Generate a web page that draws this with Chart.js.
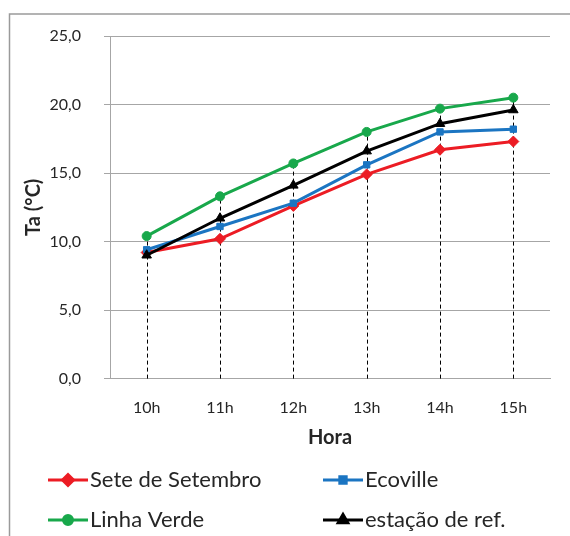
<!DOCTYPE html>
<html>
<head>
<meta charset="utf-8">
<script src="https://cdn.jsdelivr.net/npm/chart.js@4.4.1/dist/chart.umd.min.js"></script>
<style>
  html, body { margin: 0; padding: 0; background: #fff; }
  #wrap { width: 570px; height: 536px; position: relative; }
</style>
</head>
<body>
<div id="wrap"><canvas id="c" width="570" height="536"></canvas></div>
<script>
// Air temperature (°C) by hour at each site
const hours = ['10h', '11h', '12h', '13h', '14h', '15h'];
const seteSetembro = [9.2, 10.2, 12.6, 14.9, 16.7, 17.3];
const ecoville     = [9.4, 11.1, 12.8, 15.6, 18.0, 18.2];
const linhaVerde   = [10.4, 13.3, 15.7, 18.0, 19.7, 20.5];
const estacaoRef   = [9.0, 11.7, 14.1, 16.6, 18.6, 19.6];
const yTicks = [0, 5, 10, 15, 20, 25];

const FONT = 'Lato, "Open Sans", sans-serif';
const GRID = '#a6a6a6';
const TEXT = '#262626';

// white page with the frame along the top and left edges
const framePlugin = {
  id: 'frame',
  beforeDraw(chart) {
    const ctx = chart.ctx;
    ctx.save();
    ctx.fillStyle = '#fff';
    ctx.fillRect(0, 0, chart.width, chart.height);
    ctx.strokeStyle = '#9a9a9a';
    ctx.lineWidth = 1.5;
    ctx.beginPath();
    ctx.moveTo(9.5, chart.height);
    ctx.lineTo(9.5, 14);
    ctx.lineTo(chart.width, 14);
    ctx.stroke();
    ctx.restore();
  }
};

// dashed drop lines from the axis up to the highest point of each hour
const dropLinesPlugin = {
  id: 'dropLines',
  beforeDatasetsDraw(chart) {
    const { ctx, scales: { x, y } } = chart;
    ctx.save();
    ctx.strokeStyle = '#000';
    ctx.lineWidth = 1;
    ctx.setLineDash([4, 3]);
    hours.forEach((h, i) => {
      const top = Math.max(...chart.data.datasets.map(d => d.data[i]));
      const px = Math.round(x.getPixelForValue(i)) + 0.5;
      ctx.beginPath();
      ctx.moveTo(px, y.getPixelForValue(0));
      ctx.lineTo(px, y.getPixelForValue(top));
      ctx.stroke();
    });
    ctx.restore();
  }
};

// two-column legend under the axis title
const gridLegendPlugin = {
  id: 'gridLegend',
  afterDraw(chart) {
    const ctx = chart.ctx;
    const cols = [48, 323];
    const rows = [480, 520];
    ctx.save();
    chart.data.datasets.forEach((ds, i) => {
      const x0 = cols[i % 2];
      const yy = rows[Math.floor(i / 2)];
      ctx.strokeStyle = ds.borderColor;
      ctx.lineWidth = 3;
      ctx.setLineDash([]);
      ctx.beginPath();
      ctx.moveTo(x0, yy);
      ctx.lineTo(x0 + 40, yy);
      ctx.stroke();
      ctx.fillStyle = ds.pointBackgroundColor;
      ctx.strokeStyle = ds.pointBorderColor;
      Chart.helpers.drawPoint(ctx, {
        pointStyle: ds.pointStyle,
        radius: ds.pointRadius,
        rotation: 0,
        borderWidth: 1
      }, x0 + 20, yy);
      ctx.fillStyle = TEXT;
      ctx.font = '22px ' + FONT;
      ctx.textBaseline = 'middle';
      ctx.textAlign = 'left';
      ctx.fillText(ds.label, x0 + 42, yy);
    });
    ctx.restore();
  }
};

function series(label, data, color, style, radius, order) {
  return {
    label, data, order,
    borderColor: color,
    borderWidth: 3,
    pointStyle: style,
    pointRadius: radius,
    pointBackgroundColor: color,
    pointBorderColor: color,
    pointBorderWidth: 1,
    tension: 0,
    fill: false
  };
}

new Chart(document.getElementById('c'), {
  type: 'line',
  data: {
    labels: hours,
    datasets: [
      series('Sete de Setembro', seteSetembro, '#ec1c24', 'rectRot', 5.5, 4),
      series('Ecoville', ecoville, '#1b75c2', 'rect', 4.5, 3),
      series('Linha Verde', linhaVerde, '#18a84b', 'circle', 4.5, 2),
      series('estação de ref.', estacaoRef, '#000000', 'triangle', 5.5, 1)
    ]
  },
  plugins: [framePlugin, dropLinesPlugin, gridLegendPlugin],
  options: {
    responsive: false,
    animation: false,
    devicePixelRatio: 1,
    layout: { padding: { left: 10, top: 36, right: 20, bottom: 86 } },
    plugins: { legend: { display: false }, tooltip: { enabled: false } },
    scales: {
      x: {
        offset: true,
        afterFit(scale) { scale.height = 71.4; },
        grid: { display: false, drawTicks: false },
        border: { display: true, color: GRID, width: 1 },
        ticks: { font: { family: FONT, size: 16 }, color: TEXT, padding: 20, maxRotation: 0 },
        title: {
          display: true, text: 'Hora', color: TEXT,
          font: { family: FONT, size: 20, weight: 'bold' },
          padding: { top: 8, bottom: 0 }
        }
      },
      y: {
        min: 0,
        max: 25,
        afterBuildTicks(scale) { scale.ticks = yTicks.map(v => ({ value: v })); },
        afterFit(scale) { scale.width = 100; },
        ticks: {
          font: { family: FONT, size: 16 }, color: TEXT, padding: 23,
          callback: v => v.toFixed(1).replace('.', ',')
        },
        grid: { color: GRID, tickColor: GRID, tickLength: 6, lineWidth: 1 },
        border: { display: true, color: GRID, width: 1 },
        title: {
          display: true, text: 'Ta (°C)', color: TEXT,
          font: { family: FONT, size: 20, weight: 'bold' },
          padding: { top: 12, bottom: 0 }
        }
      }
    }
  }
});
</script>
</body>
</html>
